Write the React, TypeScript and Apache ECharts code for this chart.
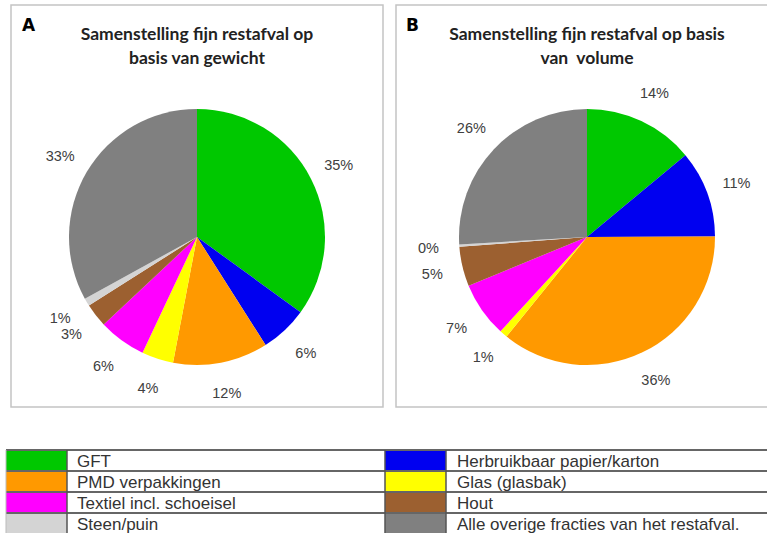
import React, { useEffect, useRef } from "react";
import * as echarts from "echarts";

const categories = [
  "GFT",
  "Herbruikbaar papier/karton",
  "PMD verpakkingen",
  "Glas (glasbak)",
  "Textiel incl. schoeisel",
  "Hout",
  "Steen/puin",
  "Alle overige fracties van het restafval.",
];
const colors = ["#00c800", "#0000f0", "#ff9900", "#ffff00", "#ff00ff", "#9c6030", "#d4d4d4", "#808080"];
const weightValues = [35, 6, 12, 4, 6, 3, 1, 33];
const volumeValues = [14, 11, 36, 1, 7, 5, 0.3, 26];
const legendLeftIdx = [0, 2, 4, 6];
const legendRightIdx = [1, 3, 5, 7];
const titleA = ["Samenstelling fijn restafval op", "basis van gewicht"];
const titleB = ["Samenstelling fijn restafval op basis", "van  volume"];

const CY = 237;
const R = 128;

function pieSeries(values: number[], cx: number): any[] {
  return [
    {
      type: "pie",
      center: [cx, CY],
      radius: R,
      startAngle: 90,
      clockwise: true,
      avoidLabelOverlap: false,
      silent: true,
      label: { show: false },
      labelLine: { show: false },
      itemStyle: { borderWidth: 0 },
      emphasis: { disabled: true },
      data: values.map((v, i) => ({ name: categories[i], value: v, itemStyle: { color: colors[i] } })),
    },
    {
      type: "pie",
      center: [cx, CY],
      radius: [R, 184],
      startAngle: 90,
      clockwise: true,
      avoidLabelOverlap: false,
      silent: true,
      itemStyle: { color: "rgba(0,0,0,0)", borderWidth: 0 },
      emphasis: { disabled: true },
      label: {
        show: true,
        position: "inside",
        formatter: (p: any) => Math.round(p.value) + "%",
        fontFamily: "Liberation Sans",
        fontSize: 14.5,
        color: "#404040",
      },
      labelLine: { show: false },
      data: values.map((v, i) => ({ name: categories[i], value: v })),
    },
  ];
}

function buildGraphics(): any[] {
  const g: any[] = [];
  // panel boxes
  g.push({ type: "rect", shape: { x: 11, y: 5, width: 372, height: 402 }, style: { fill: "none", stroke: "#c4c4c4", lineWidth: 1.5 } });
  g.push({ type: "rect", shape: { x: 396, y: 5, width: 380, height: 402 }, style: { fill: "none", stroke: "#c4c4c4", lineWidth: 1.5 } });
  // panel letters
  g.push({ type: "text", x: 22, y: 16, style: { text: "A", font: "900 17px 'DejaVu Sans'", fill: "#000" } });
  g.push({ type: "text", x: 406, y: 16, style: { text: "B", font: "900 17px 'DejaVu Sans'", fill: "#000" } });
  // titles
  [titleA, titleB].forEach((lines, k) => {
    const cx = k === 0 ? 197 : 587;
    lines.forEach((ln, j) => {
      g.push({
        type: "text",
        x: cx,
        y: 33 + j * 24,
        style: { text: ln, font: "bold 17.5px Lato", fill: "#222", textAlign: "center", textVerticalAlign: "middle" },
      });
    });
  });
  // legend table
  const top = 450;
  const rowH = 21;
  const cols = [
    { idx: legendLeftIdx, sx: 6, sw: 61, tx: 77 },
    { idx: legendRightIdx, sx: 385, sw: 61, tx: 457 },
  ];
  cols.forEach((c) => {
    c.idx.forEach((ci, r) => {
      const y = top + r * rowH;
      g.push({ type: "rect", shape: { x: c.sx, y, width: c.sw, height: rowH }, style: { fill: colors[ci] } });
      g.push({
        type: "text",
        x: c.tx,
        y: y + rowH / 2 + 1,
        style: { text: categories[ci], font: "17px 'Liberation Sans'", fill: "#333", textVerticalAlign: "middle" },
      });
    });
  });
  for (let r = 0; r < 4; r++) {
    const y = top + r * rowH;
    g.push({ type: "line", shape: { x1: 6, y1: y, x2: 767, y2: y }, style: { stroke: "#666", lineWidth: 1.8 } });
  }
  [67, 385, 446].forEach((x) => {
    g.push({ type: "line", shape: { x1: x, y1: top, x2: x, y2: 533 }, style: { stroke: "#555", lineWidth: 1.5 } });
  });
  g.push({ type: "line", shape: { x1: 6, y1: top, x2: 6, y2: 533 }, style: { stroke: "#bbb", lineWidth: 1 } });
  return g;
}

export default function App() {
  const ref = useRef<HTMLDivElement>(null);
  useEffect(() => {
    if (!ref.current) return;
    const chart = echarts.init(ref.current, undefined, { renderer: "svg" });
    chart.setOption({
      animation: false,
      backgroundColor: "#ffffff",
      series: [...pieSeries(weightValues, 197), ...pieSeries(volumeValues, 587)],
      graphic: buildGraphics(),
    });
    return () => chart.dispose();
  }, []);
  return <div ref={ref} style={{ position: "fixed", left: 0, top: 0, width: 767, height: 533 }} />;
}
